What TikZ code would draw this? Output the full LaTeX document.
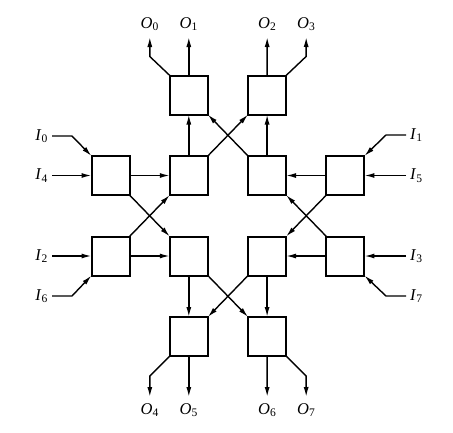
\documentclass[tikz,border=0pt]{standalone}
\usepackage{fontspec}
\setmainfont{Liberation Serif}
\usepackage{tikz}
\usetikzlibrary{positioning, arrows.meta}

\begin{document}
\begin{tikzpicture}[
    x=1pt, y=-1pt,
    every node/.style={font=\fontsize{16.5}{19}\selectfont},
    sw/.style={rectangle, draw, line width=2pt, minimum width=38pt, minimum height=39pt, inner sep=0pt, outer sep=0pt},
    arr/.style={-{Latex[length=10pt, width=5pt]}, line width=1.4pt},
    inlbl/.style={inner xsep=4pt, inner ysep=0pt},
    outlbl/.style={inner xsep=0pt, inner ysep=6pt},
    node distance=41.5pt and 40.3pt,
]
\useasboundingbox (0,0) rectangle (453,432);

% middle two rows of switches
\node[sw] (sw11) at (110.5,175.5) {};
\node[sw, right=of sw11] (sw12) {};
\node[sw, right=of sw12] (sw13) {};
\node[sw, right=of sw13] (sw14) {};
\node[sw, below=of sw11] (sw21) {};
\node[sw, below=of sw12] (sw22) {};
\node[sw, below=of sw13] (sw23) {};
\node[sw, below=of sw14] (sw24) {};

% output stage, top and bottom
\node[sw, above=of sw12] (sw02) {};
\node[sw, above=of sw13] (sw03) {};
\node[sw, below=of sw22] (sw32) {};
\node[sw, below=of sw23] (sw33) {};

% input labels
\node[inlbl, anchor=east] (i0) at (52,136) {\textit{I}\textsubscript{0}};
\node[inlbl, anchor=east] (i4) at (52,175.5) {\textit{I}\textsubscript{4}};
\node[inlbl, anchor=east] (i2) at (52,256) {\textit{I}\textsubscript{2}};
\node[inlbl, anchor=east] (i6) at (52,296) {\textit{I}\textsubscript{6}};
\node[inlbl, anchor=west] (i1) at (406,135) {\textit{I}\textsubscript{1}};
\node[inlbl, anchor=west] (i5) at (406,175.5) {\textit{I}\textsubscript{5}};
\node[inlbl, anchor=west] (i3) at (406,256) {\textit{I}\textsubscript{3}};
\node[inlbl, anchor=west] (i7) at (406,296) {\textit{I}\textsubscript{7}};

% output labels
\node[outlbl, anchor=south] (o0) at (149.8,37) {\textit{O}\textsubscript{0}};
\node[outlbl, anchor=south] (o1) at (188.8,37) {\textit{O}\textsubscript{1}};
\node[outlbl, anchor=south] (o2) at (267.2,37) {\textit{O}\textsubscript{2}};
\node[outlbl, anchor=south] (o3) at (306.2,37) {\textit{O}\textsubscript{3}};
\node[outlbl, anchor=north] (o4) at (149.8,397) {\textit{O}\textsubscript{4}};
\node[outlbl, anchor=north] (o5) at (188.8,397) {\textit{O}\textsubscript{5}};
\node[outlbl, anchor=north] (o6) at (267.2,397) {\textit{O}\textsubscript{6}};
\node[outlbl, anchor=north] (o7) at (306.2,397) {\textit{O}\textsubscript{7}};

% inputs into the outer switches
\draw[arr] (i0.east) -- ++(20,0) -- (sw11.north west);
\draw[arr] (i4.east) -- (sw11.west);
\draw[arr] (i2.east) -- (sw21.west);
\draw[arr] (i6.east) -- ++(20,0) -- (sw21.south west);
\draw[arr] (i1.west) -- ++(-20,0) -- (sw14.north east);
\draw[arr] (i5.west) -- (sw14.east);
\draw[arr] (i3.west) -- (sw24.east);
\draw[arr] (i7.west) -- ++(-20,0) -- (sw24.south east);

% left and right crossings
\draw[arr] (sw11.east) -- (sw12.west);
\draw[arr] (sw11.south east) -- (sw22.north west);
\draw[arr] (sw21.north east) -- (sw12.south west);
\draw[arr] (sw21.east) -- (sw22.west);
\draw[arr] (sw14.west) -- (sw13.east);
\draw[arr] (sw14.south west) -- (sw23.north east);
\draw[arr] (sw24.north west) -- (sw13.south east);
\draw[arr] (sw24.west) -- (sw23.east);

% upper and lower crossings
\draw[arr] (sw12.north) -- (sw02.south);
\draw[arr] (sw12.north east) -- (sw03.south west);
\draw[arr] (sw13.north west) -- (sw02.south east);
\draw[arr] (sw13.north) -- (sw03.south);
\draw[arr] (sw22.south) -- (sw32.north);
\draw[arr] (sw22.south east) -- (sw33.north west);
\draw[arr] (sw23.south west) -- (sw32.north east);
\draw[arr] (sw23.south) -- (sw33.north);

% outputs
\draw[arr] (sw02.north west) -- ++(-20,-19) -- (o0.south);
\draw[arr] (sw02.north) -- (o1.south);
\draw[arr] (sw03.north) -- (o2.south);
\draw[arr] (sw03.north east) -- ++(20,-19) -- (o3.south);
\draw[arr] (sw32.south west) -- ++(-20,20) -- (o4.north);
\draw[arr] (sw32.south) -- (o5.north);
\draw[arr] (sw33.south) -- (o6.north);
\draw[arr] (sw33.south east) -- ++(20,20) -- (o7.north);

\end{tikzpicture}
\end{document}
